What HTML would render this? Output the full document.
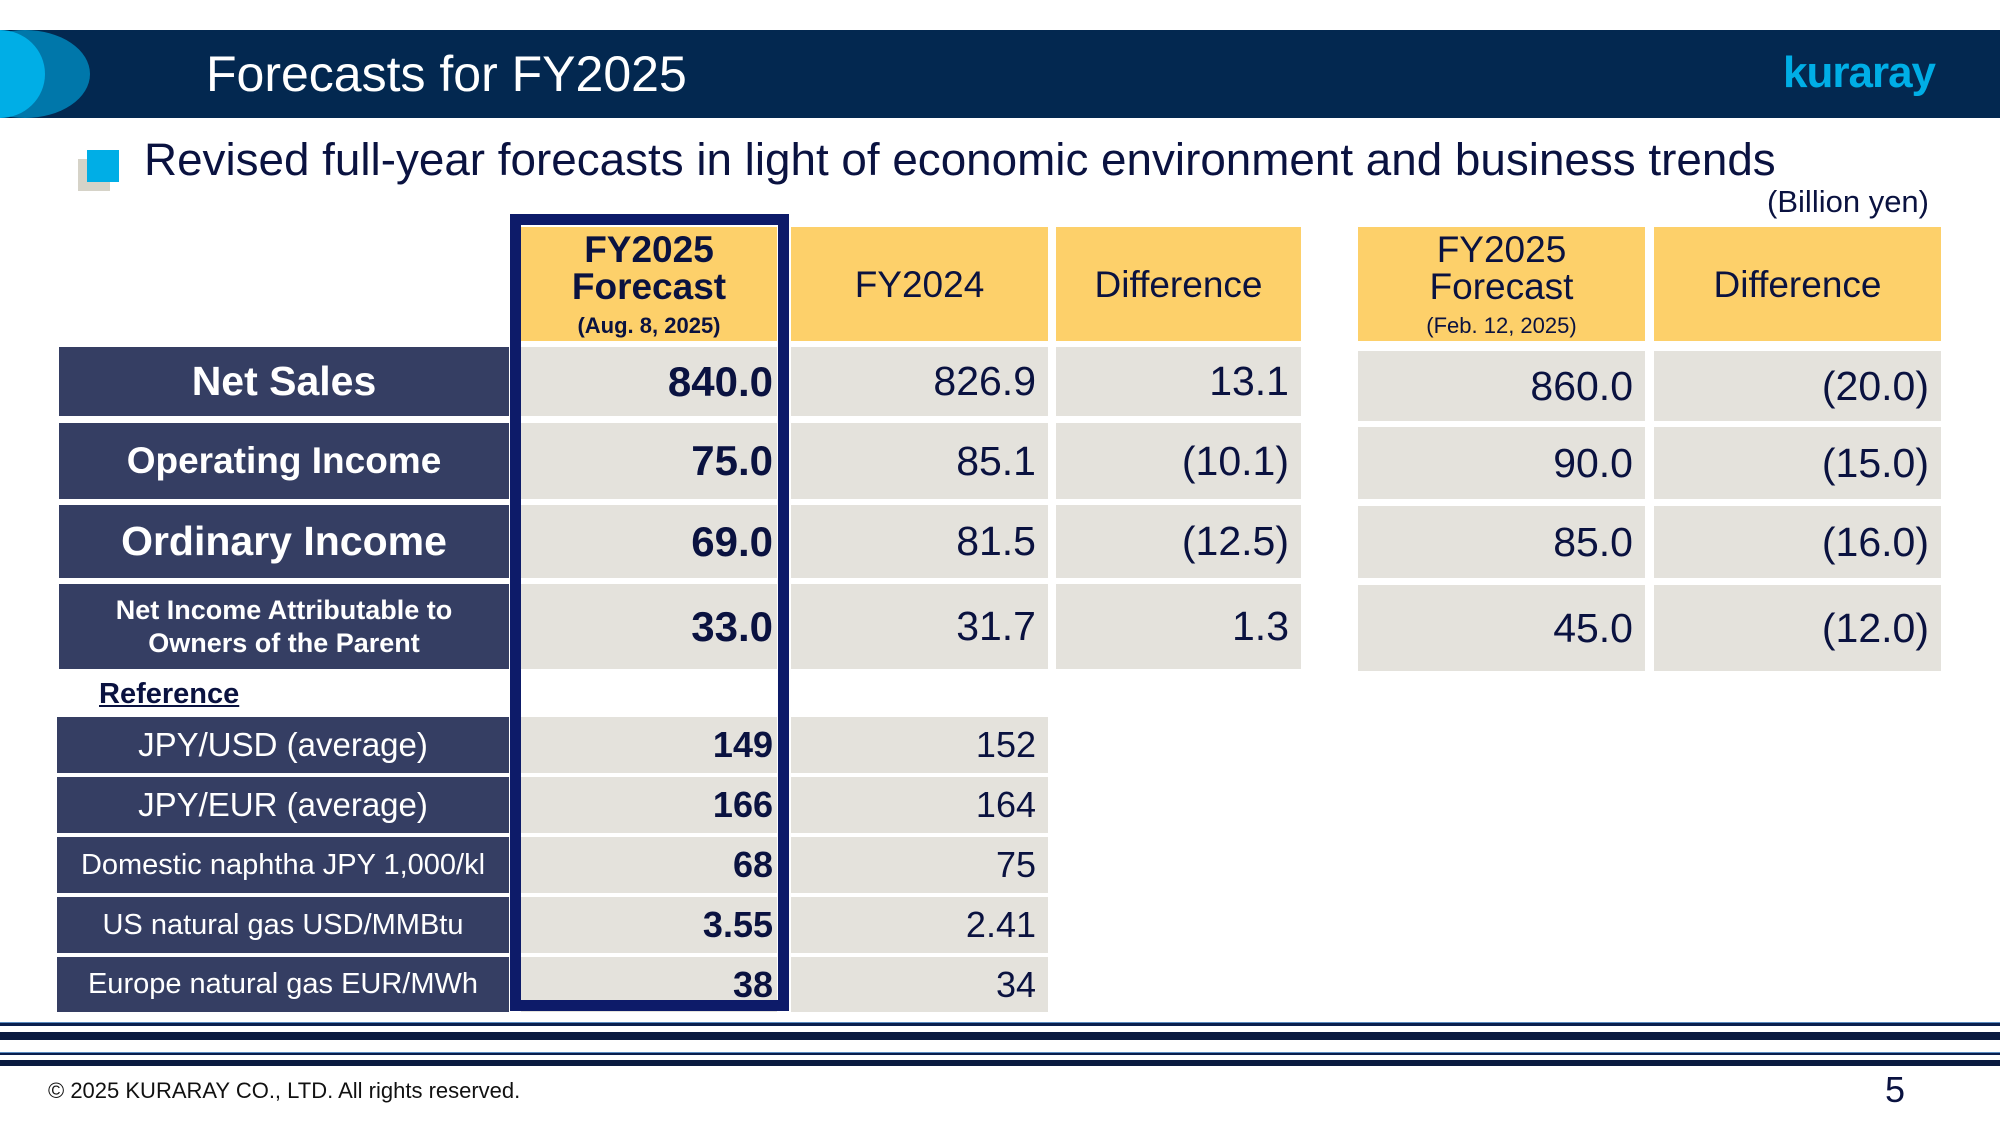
<!DOCTYPE html>
<html><head><meta charset="utf-8"><style>
*{margin:0;padding:0;box-sizing:border-box}
body{width:2000px;height:1125px;background:#fff;position:relative;overflow:hidden;font-family:"Liberation Sans",Arial,sans-serif;color:#0a1240}
div{position:absolute}
.lab{background:#353e63;color:#fff;font-weight:bold;display:flex;align-items:center;justify-content:center;text-align:center}
.c{background:#e4e2dc;display:flex;align-items:center;justify-content:flex-end;padding-right:12px;font-size:41px}
.c.b,.rc.b{padding-right:4px}
.c.b{font-size:42px}
.h{background:#fdd06a;display:flex;flex-direction:column;align-items:center;justify-content:center;text-align:center;font-size:37px;line-height:1}
.b{font-weight:bold}
.rl{background:#353e63;color:#fff;display:flex;align-items:center;justify-content:center;font-size:32px}
.rc{background:#e4e2dc;display:flex;align-items:center;justify-content:flex-end;padding-right:12px;font-size:36px}
</style></head><body>
<div style="left:0;top:30px;width:2000px;height:88px;background:#032850"></div>
<div style="left:-40px;top:30px;width:130px;height:88px;border-radius:50%;background:#0077aa"></div>
<div style="left:-45px;top:30px;width:90px;height:88px;border-radius:50%;background:#00aee6"></div>
<div style="left:206px;top:46px;font-size:50px;color:#fff;line-height:56px">Forecasts for FY2025</div>
<div style="left:1783px;top:48px;font-size:44px;color:#00aee6;font-weight:bold;letter-spacing:-1px;line-height:50px">kuraray</div>
<div style="left:78px;top:159px;width:32px;height:32px;background:#d6d3c8"></div>
<div style="left:87px;top:150px;width:32px;height:32px;background:#00aee6"></div>
<div style="left:144px;top:135px;font-size:45.8px;line-height:50px;white-space:nowrap">Revised full-year forecasts in light of economic environment and business trends</div>
<div style="left:1700px;top:184px;width:229px;text-align:right;font-size:31px;line-height:36px">(Billion yen)</div>

<div class="h b" style="left:521px;top:227px;width:256px;height:114px"><span>FY2025</span><span>Forecast</span><span style="font-size:22px;margin-top:10px">(Aug. 8, 2025)</span></div>
<div class="h" style="left:791px;top:227px;width:257px;height:114px">FY2024</div>
<div class="h" style="left:1056px;top:227px;width:245px;height:114px">Difference</div>
<div class="h" style="left:1358px;top:227px;width:287px;height:114px"><span>FY2025</span><span>Forecast</span><span style="font-size:22px;margin-top:10px">(Feb. 12, 2025)</span></div>
<div class="h" style="left:1654px;top:227px;width:287px;height:114px">Difference</div>

<div class="lab" style="left:59px;top:347px;width:450px;height:69px;font-size:41px">Net Sales</div>
<div class="lab" style="left:59px;top:423px;width:450px;height:76px;font-size:37px">Operating Income</div>
<div class="lab" style="left:59px;top:505px;width:450px;height:73px;font-size:41px">Ordinary Income</div>
<div class="lab" style="left:59px;top:584px;width:450px;height:85px;font-size:27px;line-height:33px">Net Income Attributable to<br>Owners of the Parent</div>

<div class="c b" style="left:521px;top:347px;width:256px;height:69px">840.0</div>
<div class="c" style="left:791px;top:347px;width:257px;height:69px">826.9</div>
<div class="c" style="left:1056px;top:347px;width:245px;height:69px">13.1</div>
<div class="c b" style="left:521px;top:423px;width:256px;height:76px">75.0</div>
<div class="c" style="left:791px;top:423px;width:257px;height:76px">85.1</div>
<div class="c" style="left:1056px;top:423px;width:245px;height:76px">(10.1)</div>
<div class="c b" style="left:521px;top:505px;width:256px;height:73px">69.0</div>
<div class="c" style="left:791px;top:505px;width:257px;height:73px">81.5</div>
<div class="c" style="left:1056px;top:505px;width:245px;height:73px">(12.5)</div>
<div class="c b" style="left:521px;top:584px;width:256px;height:85px">33.0</div>
<div class="c" style="left:791px;top:584px;width:257px;height:85px">31.7</div>
<div class="c" style="left:1056px;top:584px;width:245px;height:85px">1.3</div>

<div class="c" style="left:1358px;top:351px;width:287px;height:70px">860.0</div>
<div class="c" style="left:1654px;top:351px;width:287px;height:70px">(20.0)</div>
<div class="c" style="left:1358px;top:427px;width:287px;height:72px">90.0</div>
<div class="c" style="left:1654px;top:427px;width:287px;height:72px">(15.0)</div>
<div class="c" style="left:1358px;top:506px;width:287px;height:72px">85.0</div>
<div class="c" style="left:1654px;top:506px;width:287px;height:72px">(16.0)</div>
<div class="c" style="left:1358px;top:585px;width:287px;height:86px">45.0</div>
<div class="c" style="left:1654px;top:585px;width:287px;height:86px">(12.0)</div>

<div style="left:99px;top:677px;font-size:29px;font-weight:bold;text-decoration:underline;line-height:34px">Reference</div>

<div class="rl" style="left:57px;top:717px;width:452px;height:56px;font-size:33px">JPY/USD (average)</div>
<div class="rl" style="left:57px;top:777px;width:452px;height:56px;font-size:33px">JPY/EUR (average)</div>
<div class="rl" style="left:57px;top:837px;width:452px;height:56px;font-size:29px">Domestic naphtha JPY 1,000/kl</div>
<div class="rl" style="left:57px;top:897px;width:452px;height:56px;font-size:29px">US natural gas USD/MMBtu</div>
<div class="rl" style="left:57px;top:957px;width:452px;height:55px;font-size:29px">Europe natural gas EUR/MWh</div>

<div class="rc b" style="left:521px;top:717px;width:256px;height:56px">149</div>
<div class="rc" style="left:791px;top:717px;width:257px;height:56px">152</div>
<div class="rc b" style="left:521px;top:777px;width:256px;height:56px">166</div>
<div class="rc" style="left:791px;top:777px;width:257px;height:56px">164</div>
<div class="rc b" style="left:521px;top:837px;width:256px;height:56px">68</div>
<div class="rc" style="left:791px;top:837px;width:257px;height:56px">75</div>
<div class="rc b" style="left:521px;top:897px;width:256px;height:56px">3.55</div>
<div class="rc" style="left:791px;top:897px;width:257px;height:56px">2.41</div>
<div class="rc b" style="left:521px;top:957px;width:256px;height:55px">38</div>
<div class="rc" style="left:791px;top:957px;width:257px;height:55px">34</div>

<div style="left:510px;top:214px;width:279px;height:797px;border:11px solid #0d1b69"></div>

<div style="left:0;top:1022px;width:2000px;height:4px;background:#0a1f4e;border-top:1px solid #5a8bc0"></div>
<div style="left:0;top:1032px;width:2000px;height:8px;background:#0a1a40"></div>
<div style="left:0;top:1052px;width:2000px;height:3px;background:#0a1f4e;border-top:1px solid #5a8bc0"></div>
<div style="left:0;top:1060px;width:2000px;height:6px;background:#0a1a40"></div>
<div style="left:48px;top:1078px;font-size:22px;line-height:26px;color:#111">© 2025 KURARAY CO., LTD. All rights reserved.</div>
<div style="left:1885px;top:1070px;font-size:36px;line-height:40px">5</div>
</body></html>
